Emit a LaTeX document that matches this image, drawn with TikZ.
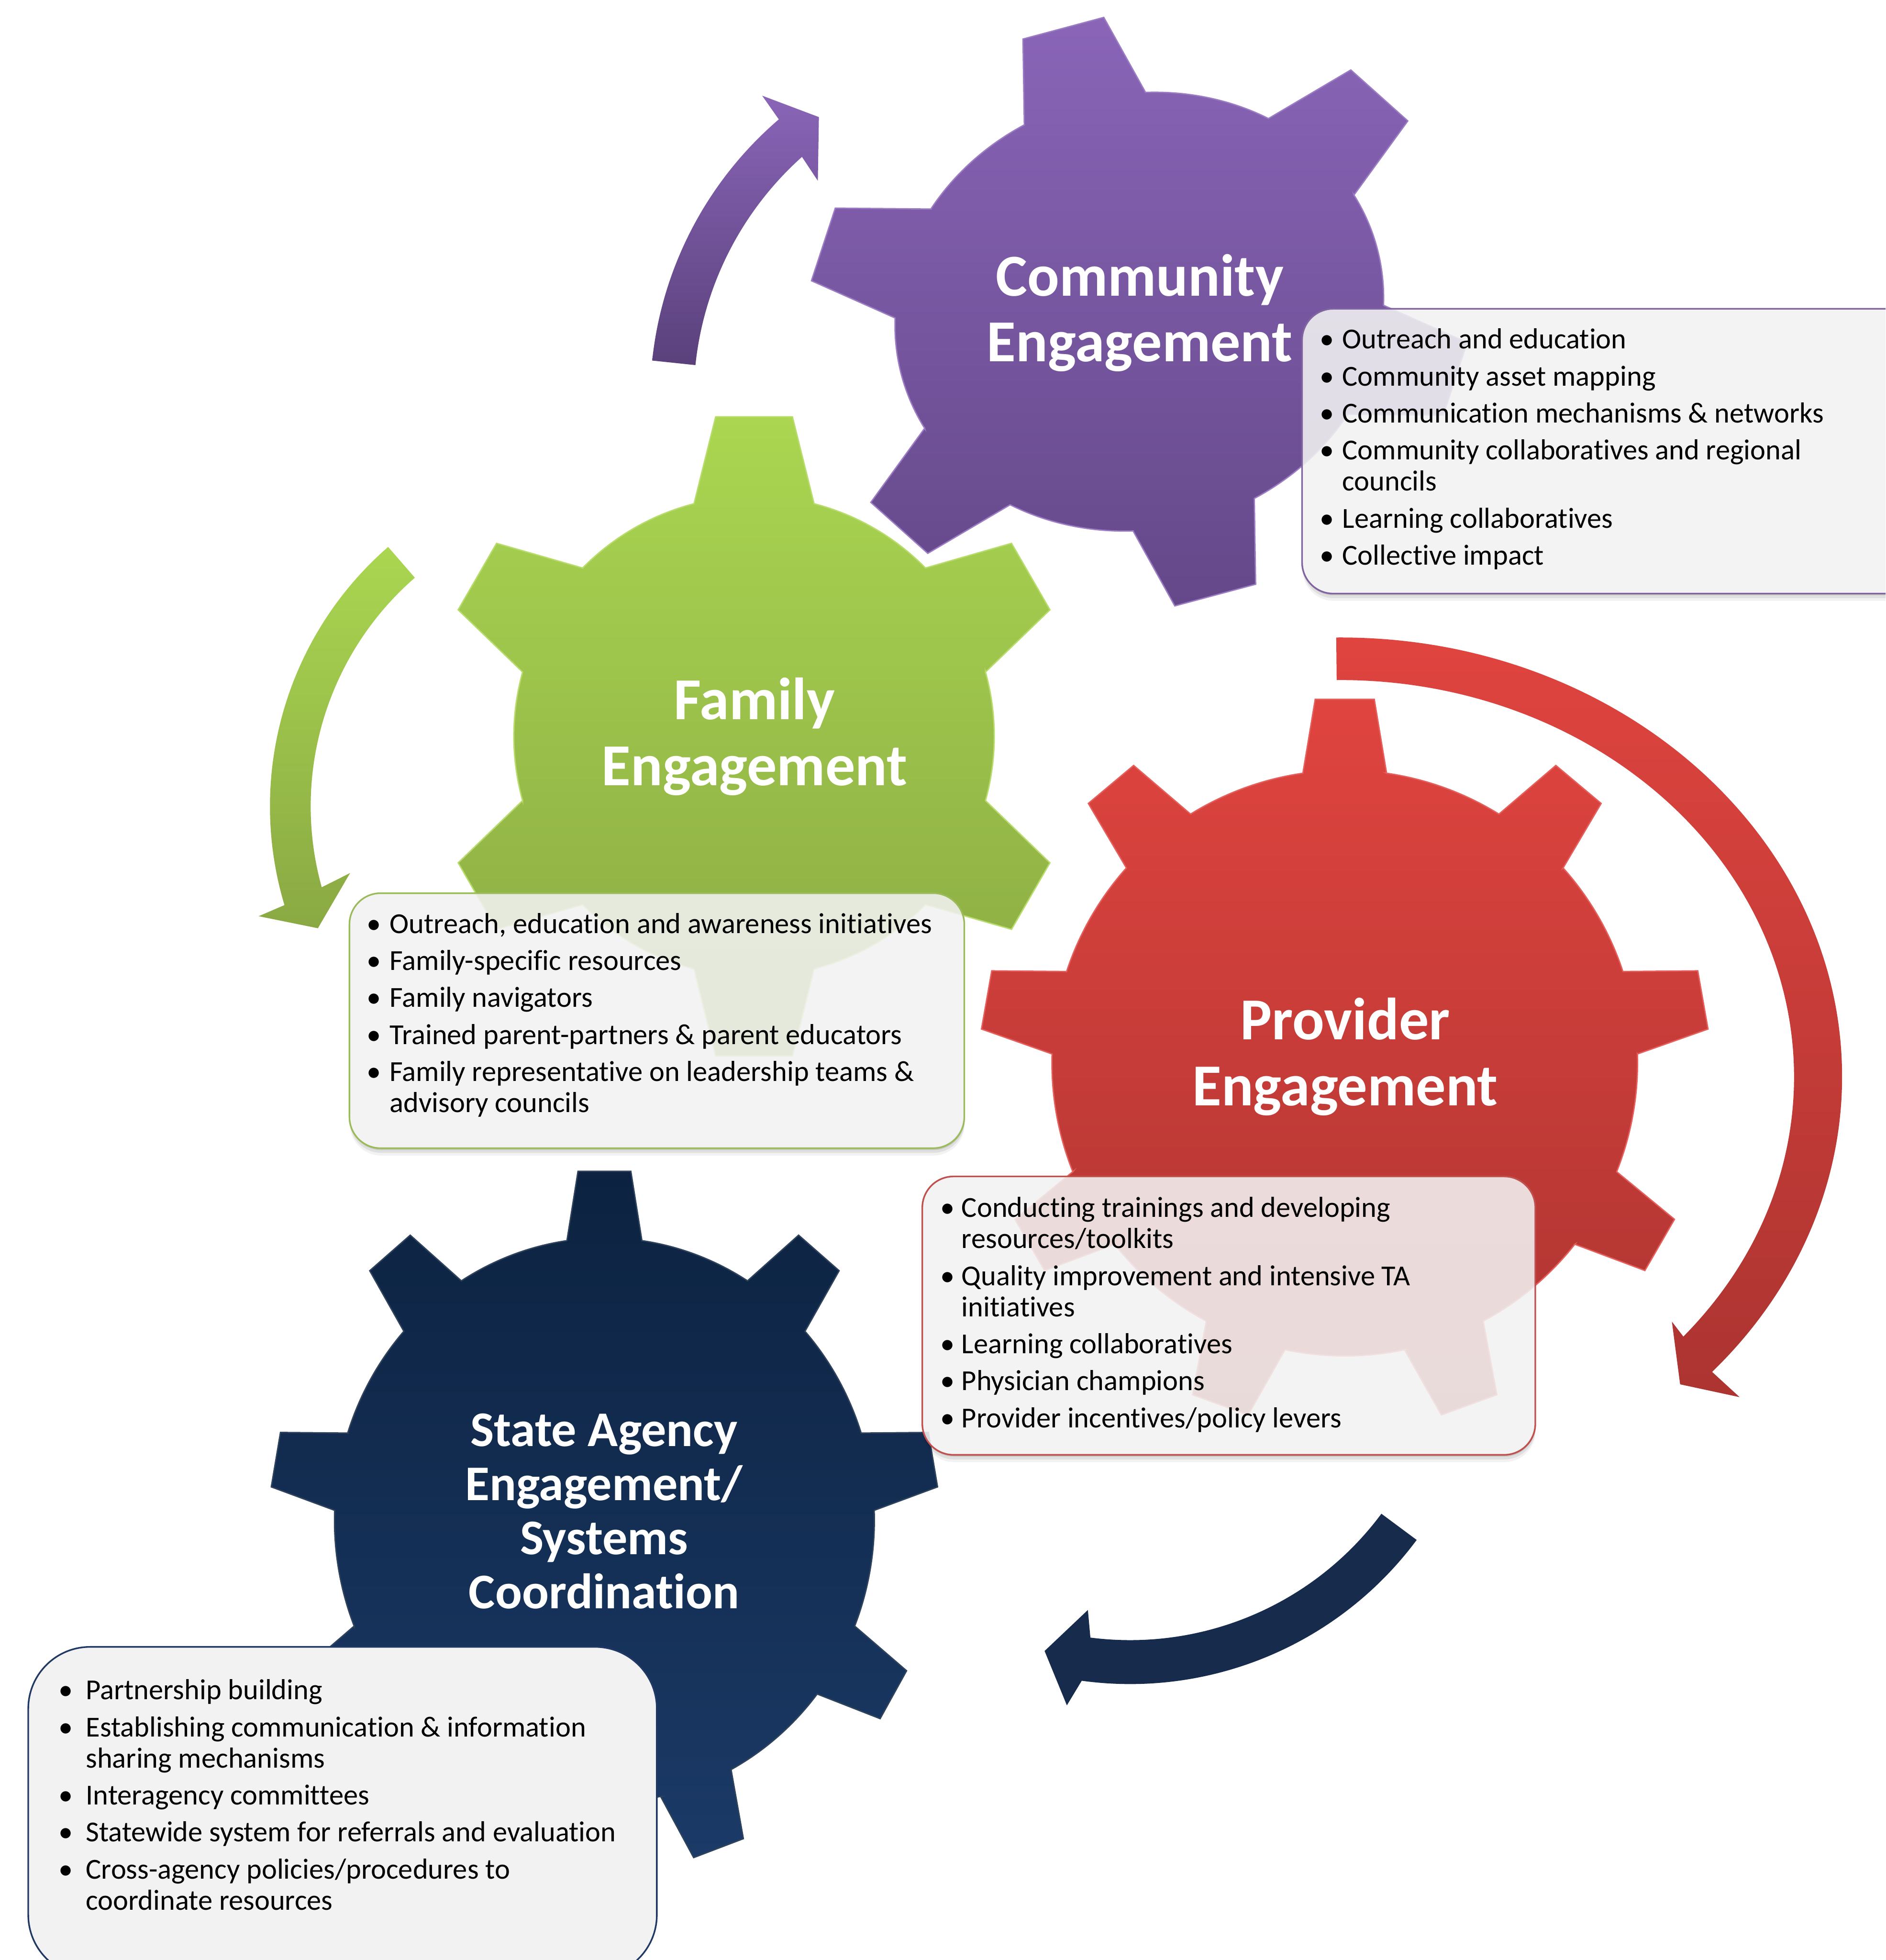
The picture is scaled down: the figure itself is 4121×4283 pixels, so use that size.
\documentclass[tikz,border=0pt]{standalone}
\usepackage{fontspec}
\setmainfont{Carlito}[Ligatures=NoCommon]

\definecolor{purpleTop}{HTML}{8A65B8}
\definecolor{purpleBot}{HTML}{644889}
\definecolor{greenTop}{HTML}{AAD651}
\definecolor{greenBot}{HTML}{8AA943}
\definecolor{redTop}{HTML}{E0443F}
\definecolor{redBot}{HTML}{AC3431}
\definecolor{navyTop}{HTML}{0C2240}
\definecolor{navyBot}{HTML}{1B3A67}
\definecolor{navyArrow}{HTML}{172B4C}
\definecolor{boxGrey}{HTML}{F2F2F2}
\definecolor{purpleLine}{HTML}{8064A2}
\definecolor{greenLine}{HTML}{9BBB59}
\definecolor{redLine}{HTML}{C0504D}
\definecolor{navyLine}{HTML}{1F3864}

% centred lines stacked on a fixed baseline distance; baseline = first line
\newcommand{\stackc}[2]{\vtop{\baselineskip=#1\lineskiplimit=-100pt\halign{\hfil##\hfil\cr#2\cr}}}
% bullet list: #1 hanging indent, #2 items (\bitem ...); baseline = first line
\newcommand{\blist}[2]{\vtop{\hsize=15cm\parindent=0pt\baselineskip=19.3pt\lineskiplimit=-100pt
  \parskip=3.7pt\rightskip=0pt plus 1fil
  \def\bitem{\par\hangindent=#1\hangafter=1\noindent\makebox[#1][l]{\textbullet}}#2\par}}
% soft shadow below a rounded box, kept outside the box itself
% #1,#2 top-left corner, #3,#4 bottom-right corner, #5 corner radius
\newcommand{\boxshadow}[5]{%
  \begin{scope}[even odd rule]
    \clip (-200,200) rectangle (4400,-4500)
      [rounded corners=#5] (#3,#2) rectangle (#1,#4);
    \foreach \d/\o in {6/0.10,12/0.08,18/0.05}{
      \fill[black, opacity=\o, rounded corners=#5] (#1+3,#2-\d) rectangle (#3+3,#4-\d);
    }
  \end{scope}}

\tikzset{
  pics/gear/.style n args={7}{code={
    \pgfmathsetmacro\gstep{360/#1}
    \pgfmathsetmacro\gdt{atan(#4/#3)}
    \pgfmathsetmacro\grt{sqrt((#3)*(#3)+(#4)*(#4))}
    \pgfmathsetmacro\gdb{asin(#5)}
    \shade[top color=#6, bottom color=#7, draw=#6!85!white, line width=0.8pt]
      ({#2-\gdb}:1)
      \foreach \k in {1,...,#1}{
        -- ({#2+(\k-1)*\gstep-\gdb}:1)
        -- ({#2+(\k-1)*\gstep-\gdt}:\grt)
        -- ({#2+(\k-1)*\gstep+\gdt}:\grt)
        -- ({#2+(\k-1)*\gstep+\gdb}:1)
        arc[start angle={#2+(\k-1)*\gstep+\gdb}, end angle={#2+\k*\gstep-\gdb}, radius=1]
      } -- cycle;
  }},
  gtitle/.style={text=white, inner sep=0, anchor=base,
    font=\bfseries\fontsize{37}{40.7}\selectfont},
  infobox/.style={draw=#1, line width=1pt, fill=boxGrey, fill opacity=0.88, draw opacity=1,
    rounded corners=0.68cm, inner sep=0, anchor=north west},
  listtext/.style={inner sep=0, anchor=base west, text=black,
    font=\fontsize{18}{19.3}\selectfont},
}

\begin{document}
\begin{tikzpicture}[x=0.01cm, y=0.01cm]
\useasboundingbox (0,0) rectangle (4121,-4283);
\clip (0,0) rectangle (4121,-4283);
\fill[white] (0,0) rectangle (4121,-4283);

% ---- gears ----
\pic (commgear) [rotate=15, xscale=538, yscale=475] at (2490,-681)
  {gear={6}{90}{1.35}{0.17}{0.255}{purpleTop}{purpleBot}};
\pic (famgear) [scale=525] at (1648,-1609)
  {gear={6}{90}{1.33}{0.16}{0.25}{greenTop}{greenBot}};
\pic (provgear) [scale=640] at (2939,-2323)
  {gear={9}{90}{1.242}{0.101}{0.143}{redTop}{redBot}};
\pic (stategear) [xscale=590, yscale=617] at (1321,-3322)
  {gear={9}{90}{1.236}{0.098}{0.139}{navyTop}{navyBot}};

% ---- curved arrows ----
\begin{scope}[shift={(2226,-872)}]
  \shade[top color=purpleTop, bottom color=purpleBot!90!black]
    (174:805) arc[start angle=174, end angle=130.6, radius=805]
    -- (130.2:868) -- (125.3:755) -- (132.6:648) -- (131.8:710)
    arc[start angle=131.8, end angle=174, radius=710] -- cycle;
\end{scope}
\begin{scope}[shift={(1341,-1762)}]
  \shade[top color=greenTop, bottom color=greenBot]
    (131:751) arc[start angle=131, end angle=196.7, radius=751]
    -- (197.2:812) -- (202.4:699) -- (194.2:594) -- (195.5:662)
    arc[start angle=195.5, end angle=131, radius=662] -- cycle;
\end{scope}
\begin{scope}[shift={(2930,-2353)}]
  \shade[top color=redTop, bottom color=redBot]
    (90.5:1096 and 960) arc[start angle=90.5, end angle=-42.2, x radius=1096, y radius=960]
    -- (872,-700) -- (742,-672) -- (724,-535) -- (-40.9:991 and 867)
    arc[start angle=-40.9, end angle=90.5, x radius=991, y radius=867] -- cycle;
\end{scope}
\begin{scope}[shift={(2470,-2900)}]
  \fill[navyArrow]
    (-36.6:780) arc[start angle=-36.6, end angle=-97.8, radius=780]
    -- (-99.5:838) -- (-104.8:732) -- (-98.5:625) -- (-97.3:684)
    arc[start angle=-97.3, end angle=-36.6, radius=684] -- cycle;
\end{scope}

% ---- gear titles ----
\node[gtitle] (commtitle) at (2491,-647) {\stackc{40.7pt}{Community\cr Engagement}};
\node[gtitle] (famtitle) at (1649,-1572) {\stackc{41pt}{Family\cr Engagement}};
\node[gtitle] (provtitle) at (2940,-2272) {\stackc{41pt}{Provider\cr Engagement}};
\node[gtitle, font=\bfseries\fontsize{31}{33.6}\selectfont] (statetitle) at (1320,-3160)
  {\stackc{33.6pt}{State Agency\cr Engagement/\cr Systems\cr Coordination}};

% ---- information boxes ----
\boxshadow{2844}{-673}{4224}{-1295}{0.68cm}
\boxshadow{762}{-1950}{2105}{-2507}{0.68cm}
\boxshadow{2014}{-2569}{3353}{-3177}{0.68cm}
\node[infobox=purpleLine, minimum width=13.8cm, minimum height=6.22cm] (commbox) at (2844,-673) {};
\node[infobox=greenLine, minimum width=13.43cm, minimum height=5.57cm] (fambox) at (762,-1950) {};
\node[infobox=redLine, minimum width=13.39cm, minimum height=6.08cm] (provbox) at (2014,-2569) {};
\node[infobox=navyLine, fill opacity=1, rounded corners=1.35cm,
  minimum width=13.73cm, minimum height=7.2cm] (statebox) at (60,-3597) {};

\node[listtext] (commlist) at (2884,-762) {\blist{0.49cm}{%
  \bitem Outreach and education
  \bitem Community asset mapping
  \bitem Communication mechanisms \& networks
  \bitem Community collaboratives and regional\newline councils
  \bitem Learning collaboratives
  \bitem Collective impact}};
\node[listtext] (famlist) at (801,-2039) {\blist{0.5cm}{%
  \bitem Outreach, education and awareness initiatives
  \bitem Family-specific resources
  \bitem Family navigators
  \bitem Trained parent-partners \& parent educators
  \bitem Family representative on leadership teams \&\newline advisory councils}};
\node[listtext] (provlist) at (2054,-2660) {\blist{0.47cm}{%
  \bitem Conducting trainings and developing\newline resources/toolkits
  \bitem Quality improvement and intensive TA\newline initiatives
  \bitem Learning collaboratives
  \bitem Physician champions
  \bitem Provider incentives/policy levers}};
\node[listtext] (statelist) at (127,-3714) {\blist{0.6cm}{%
  \bitem Partnership building
  \bitem Establishing communication \& information\newline sharing mechanisms
  \bitem Interagency committees
  \bitem Statewide system for referrals and evaluation
  \bitem Cross-agency policies/procedures to\newline coordinate resources}};
\end{tikzpicture}
\end{document}
